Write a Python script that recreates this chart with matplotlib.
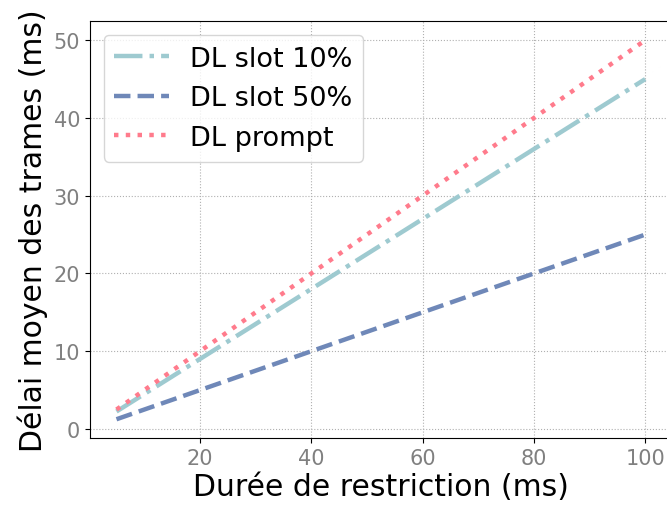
import matplotlib
matplotlib.use("Agg")
import matplotlib.pyplot as plt

x = [5, 10, 15, 20, 25, 30, 35, 40, 45, 50, 55, 60, 65, 70, 75, 80, 85, 90, 95, 100]
slot10 = [2.25, 4.5, 6.75, 9.0, 11.25, 13.5, 15.75, 18.0, 20.25, 22.5, 24.75, 27.0,
          29.25, 31.5, 33.75, 36.0, 38.25, 40.5, 42.75, 45.0]
slot50 = [1.25, 2.5, 3.75, 5.0, 6.25, 7.5, 8.75, 10.0, 11.25, 12.5, 13.75, 15.0,
          16.25, 17.5, 18.75, 20.0, 21.25, 22.5, 23.75, 25.0]
prompt = [2.5, 5.0, 7.5, 10.0, 12.5, 15.0, 17.5, 20.0, 22.5, 25.0, 27.5, 30.0,
          32.5, 35.0, 37.5, 40.0, 42.5, 45.0, 47.5, 50.0]
labels = ["DL slot 10%", "DL slot 50%", "DL prompt"]

fig = plt.figure(figsize=(6.67, 5.06), dpi=100)
ax = fig.add_axes([0.135, 0.132, 0.872, 0.824])

lw = 3.2
ax.plot(x, slot10, linestyle="-.", color="#9ECAD0", lw=lw, label=labels[0])
ax.plot(x, slot50, linestyle="--", color="#6F88B8", lw=lw, label=labels[1])
ax.plot(x, prompt, linestyle=":", color="#FF7B8C", lw=lw, label=labels[2])

ax.grid(True, linestyle=":", color="#b0b0b0", linewidth=0.8)
ax.set_xticks([20, 40, 60, 80, 100])
ax.set_yticks([0, 10, 20, 30, 40, 50])
ax.tick_params(axis="both", labelsize=15, labelcolor="#808080")
ax.set_xlabel("Durée de restriction (ms)", fontsize=21.5, labelpad=3)
ax.set_ylabel("Délai moyen des trames (ms)", fontsize=21.5, labelpad=4)
ax.legend(loc="upper left", fontsize=19.5)

fig.savefig("out.png", dpi=100)
